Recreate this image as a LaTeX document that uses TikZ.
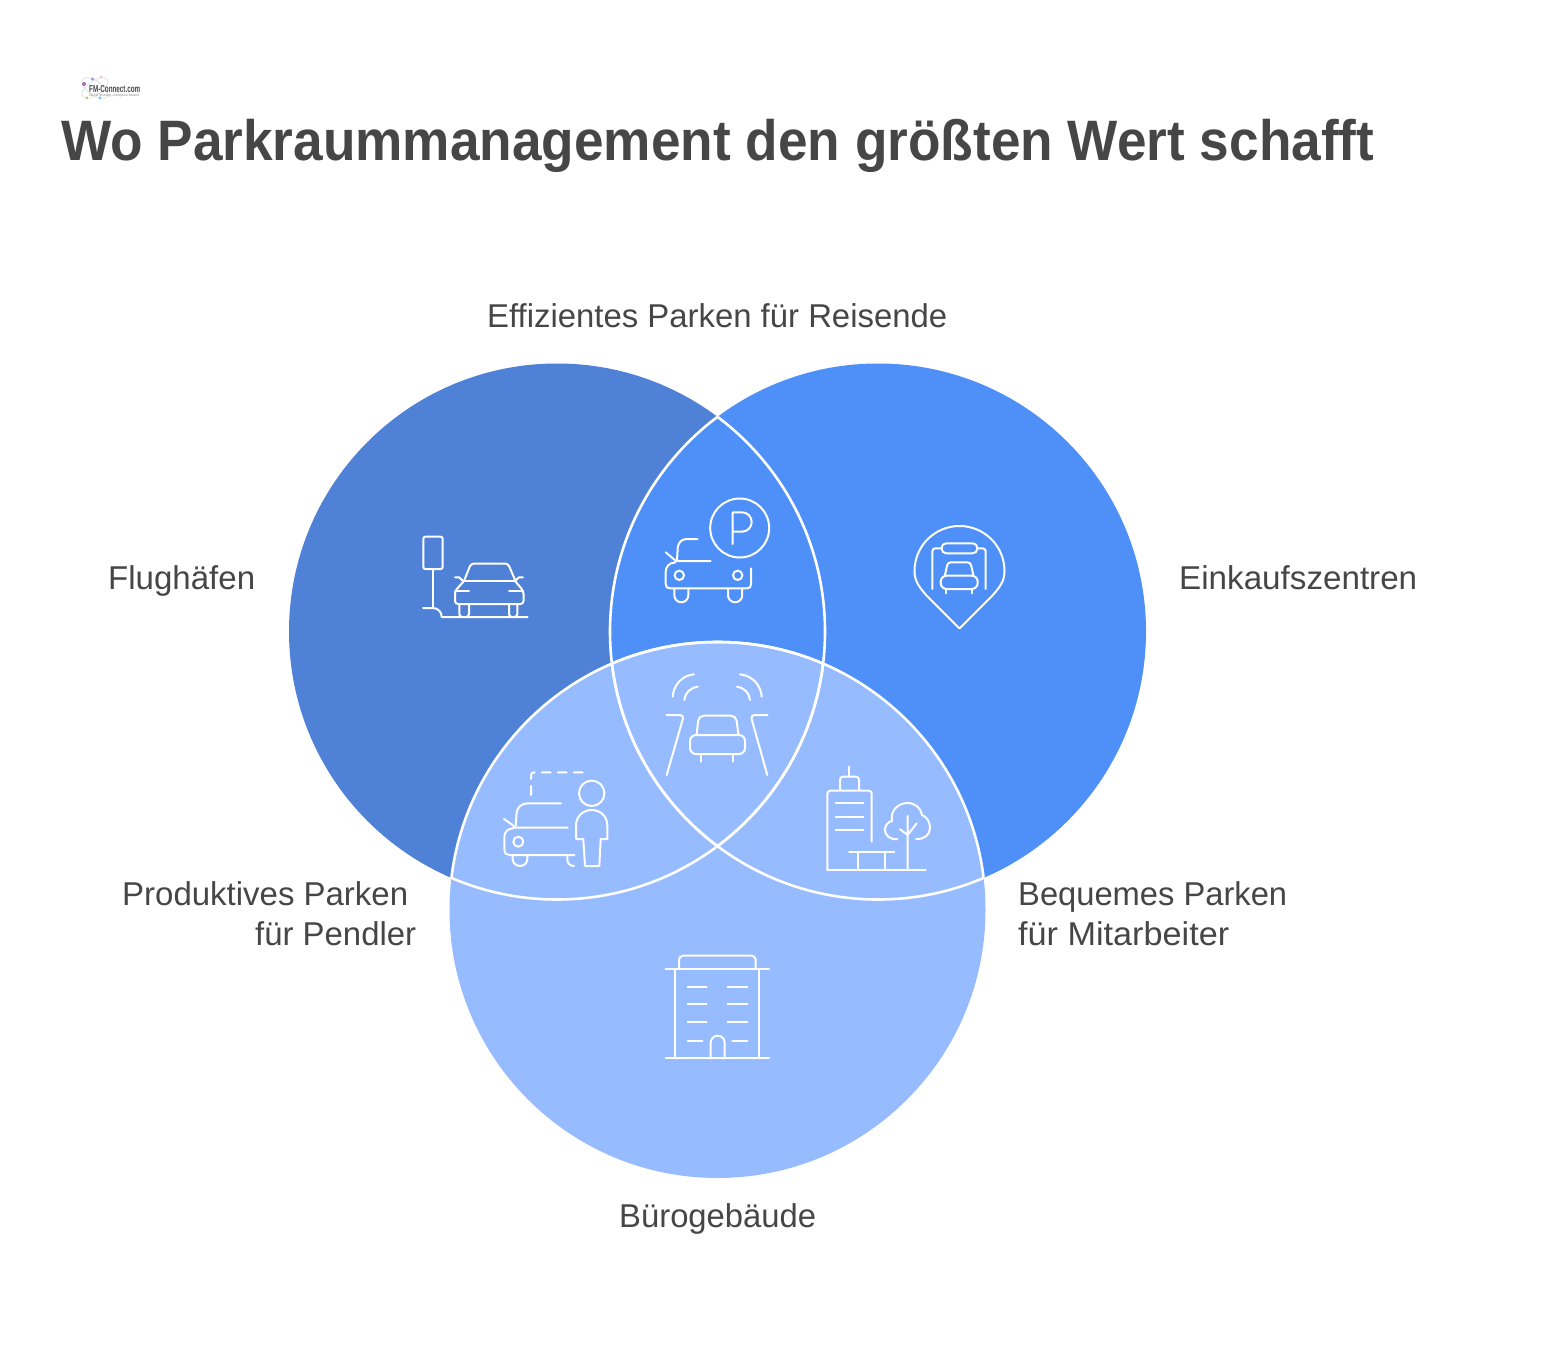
\documentclass[tikz,border=0pt]{standalone}
\usepackage{fontspec}
\setmainfont{Liberation Sans}
\definecolor{ca}{HTML}{4F81D6}
\definecolor{cb}{HTML}{4E8FF8}
\definecolor{cc}{HTML}{96BBFE}
\definecolor{ink}{HTML}{464646}
\newcommand\fitw[2]{\resizebox{#1pt}{\height}{#2}}
\newcommand\ringin[2]{\begin{scope}\clip #2 circle (268);\draw[ring] #1 circle (268);\end{scope}}
\tikzset{
  label/.style={anchor=base west,inner sep=0pt,text=ink,font=\fontsize{33}{33}\selectfont},
  ttl/.style={anchor=base west,inner sep=0pt,text=ink,font=\fontsize{57}{57}\selectfont\bfseries},
  ring/.style={draw=white,line width=2.6pt},
  icon/.style={draw=white,line width=2pt,line cap=round,line join=round,fill=none},
  rc/.style={icon,rounded corners=3pt}
}
\begin{document}
\begin{tikzpicture}[x=1pt,y=-1pt]
\useasboundingbox (0,0) rectangle (1558,1356);
% logo
\draw[gray!25,line width=.7pt,rotate around={35:(95,88)}] (95,88) ellipse (15 and 7);
\draw[gray!25,line width=.7pt,rotate around={-35:(95,88)}] (95,88) ellipse (15 and 7);
\fill[violet!60] (84,84) circle (2);
\fill[blue!45] (92.5,79) circle (1.7);
\fill[red!25] (101,77) circle (1.5);
\fill[cyan!60] (100,98) circle (1.7);
\fill[yellow!50!gray] (87,98) circle (1.5);
\node[anchor=base west,inner sep=0pt,text=ink] (logoa) at (89,93) {\fitw{51}{\fontsize{10}{10}\selectfont\bfseries FM-Connect.com}};
\node[anchor=base west,inner sep=0pt,text=gray] (logob) at (89,97) {\fitw{50}{\fontsize{3.5}{4}\selectfont Das FM Technology- und Ingenieur-Netzwerk}};
% title
\node[ttl] (title) at (61,161) {\fitw{1313}{Wo Parkraummanagement den größten Wert schafft}};
% circles
\fill[ca] (557,631.5) circle (268);
\fill[cb] (878,631.5) circle (268);
\fill[cc] (717.5,910) circle (268);
\ringin{(557,631.5)}{(878,631.5)}
\ringin{(557,631.5)}{(717.5,910)}
\ringin{(878,631.5)}{(557,631.5)}
\ringin{(878,631.5)}{(717.5,910)}
\ringin{(717.5,910)}{(557,631.5)}
\ringin{(717.5,910)}{(878,631.5)}
% labels
\node[label] (l1) at (487,327) {\fitw{460}{Effizientes Parken für Reisende}};
\node[label] (l2) at (108,589) {\fitw{147}{Flughäfen}};
\node[label] (l3) at (1179,589) {\fitw{238}{Einkaufszentren}};
\node[label] (l4a) at (122,905) {\fitw{286}{Produktives Parken}};
\node[label] (l4b) at (255,945) {\fitw{161}{für Pendler}};
\node[label] (l5a) at (1018,905) {\fitw{269}{Bequemes Parken}};
\node[label] (l5b) at (1018,945) {\fitw{211}{für Mitarbeiter}};
\node[label] (l6) at (619,1227) {\fitw{197}{Bürogebäude}};
% icon: airport car
\draw[rc,rounded corners=2pt] (423.3,536.7) rectangle (442.7,569);
\draw[icon] (432.7,569) -- (432.7,608);
\draw[icon] (423,608) -- (432.7,608) .. controls (438,608) and (441.7,612) .. (441.7,617) -- (527.7,617);
\draw[icon] (464,581) -- (515,581);
\draw[rc] (464,581) -- (471,563.5) -- (508,563.5) -- (515.5,581);
\draw[rc] (464,581) -- (455,591) -- (455,604) -- (523.5,604) -- (523.5,591) -- (515,581);
\draw[icon] (455,591) -- (469,591) (509,591) -- (523,591);
\draw[icon] (455,577.3) -- (459,577.3) -- (463,581) (523,577.3) -- (519,577.3) -- (515,581);
\draw[rc] (459.3,604) -- (459.3,617) -- (469,617) -- (469,604);
\draw[rc] (509,604) -- (509,617) -- (517.3,617) -- (517.3,604);
% icon: P car
\draw[icon] (739.7,528) circle (29.5);
\draw[icon] (732.7,544) -- (732.7,512.3) -- (742,512.3) arc (-90:90:9.7) -- (732.7,531.7);
\draw[icon] (697.7,539) -- (687,539) .. controls (681,539) and (678.2,543) .. (677.7,548) -- (677,561);
\draw[icon] (675,561) -- (710.7,561) (665.7,552.3) -- (676,561);
\draw[icon] (675,562.5) .. controls (669,562.5) and (665.7,567) .. (665.7,572) -- (665.7,584) .. controls (665.7,587) and (667,588.3) .. (670,588.3) -- (747,588.3) .. controls (750,588.3) and (751,587) .. (751,584) -- (751,568.3);
\draw[icon] (679.3,575.3) circle (4.7) (737.7,575.3) circle (4.7);
\draw[icon] (674.3,588.3) -- (674.3,595.3) arc (180:0:7) -- (688.3,588.3);
\draw[icon] (728,588.3) -- (728,595.3) arc (180:0:7.1 and 7) -- (742.2,588.3);
% icon: pin
\draw[icon] (959.5,628.5) -- (927,596) .. controls (919,587) and (914.5,581) .. (914.5,571) arc (180:0:45 and -45) .. controls (1004.5,581) and (1000,587) .. (992,596) -- cycle;
\draw[rc] (932.3,589) -- (932.3,548.3) -- (941.7,548.3);
\draw[rc] (985.7,589) -- (985.7,548.3) -- (977.3,548.3);
\draw[icon,rounded corners=4.5pt] (941.7,543.3) rectangle (977.3,553.3);
\draw[rc] (945,575) -- (947.8,562.3) -- (970.5,562.3) -- (973.3,575);
\draw[icon,rounded corners=6pt] (940.7,575.7) -- (940.7,589) -- (977.7,589) -- (977.7,575.7) -- cycle;
\draw[icon] (946,589) -- (946,593.3) (972.3,589) -- (972.3,593.3);
% icon: sensor car
\draw[icon] (672.7,696.7) .. controls (673.5,685) and (682,675.5) .. (694,674.3);
\draw[icon] (684.3,700) .. controls (685,693) and (690,688) .. (697.7,686.7);
\draw[icon] (761.7,696.7) .. controls (761,685) and (752,675.5) .. (740,674.3);
\draw[icon] (750,700) .. controls (749.5,693) and (744.5,688) .. (737,686.7);
\draw[icon,rounded corners=4pt] (666.7,715) -- (684,715) -- (666.7,775);
\draw[icon,rounded corners=4pt] (767.7,715) -- (750.5,715) -- (767.3,775);
\draw[rc,rounded corners=5pt] (696.7,734) -- (698.7,715.7) -- (736,715.7) -- (738.3,734);
\draw[icon,rounded corners=6pt] (690,735) rectangle (745,754);
\draw[icon] (700.7,754) -- (700.7,761.7) (733.3,754) -- (733.3,761.7);
% icon: commuter
\draw[icon,dash pattern=on 9pt off 7pt,rounded corners=3pt] (531,795) -- (531,772.3) -- (588.3,772.3);
\draw[icon] (561,803.3) -- (528,803.3) .. controls (521,803.3) and (517,808) .. (516.6,813) -- (515.7,826);
\draw[icon] (513.3,827.7) -- (567.7,827.7) (504,819) -- (514,826);
\draw[icon] (513.3,828.3) .. controls (508,828.3) and (504.3,832) .. (504.3,837) -- (504.3,850) .. controls (504.3,853) and (506,855) .. (509,855) -- (574.3,855);
\draw[icon] (518.3,841.7) circle (5);
\draw[icon] (512.7,855) -- (512.7,859) arc (180:0:7.3 and 7) -- (527.3,855);
\draw[icon] (567.3,855) -- (567.3,859.5) .. controls (567.3,863) and (570,866) .. (574,866);
\draw[icon] (591.7,793.3) circle (12.7);
\draw[icon] (576,839) -- (576,825.5) .. controls (576,816.5) and (583,810) .. (591.7,810) .. controls (600.5,810) and (607.3,816.5) .. (607.3,825.5) -- (607.3,839) -- (600.7,839) -- (599.3,866) -- (585,866) -- (583.3,839) -- cycle;
% icon: office and tree
\draw[rc] (827.3,870) -- (827.3,790.7) -- (871.7,790.7) -- (871.7,841.7);
\draw[rc] (840,790) -- (840,776.7) -- (859,776.7) -- (859,790);
\draw[icon] (849.3,776.7) -- (849.3,766.7);
\draw[icon] (835.7,803.3) -- (863.3,803.3) (835.7,816.7) -- (863.3,816.7) (835.7,830) -- (863.3,830);
\draw[icon] (827.3,870) -- (925.7,870) (849,852.3) -- (894.3,852.3) (858.3,852.3) -- (858.3,870) (885,852.3) -- (885,870);
\draw[icon] (907.7,816) -- (907.7,870) (900,829.3) -- (907.7,835) -- (916.7,823.3);
\draw[icon] (897.3,839) .. controls (889.5,840) and (885,835) .. (885,830) .. controls (885,825) and (888,822) .. (892,821) .. controls (890,811) and (898,803) .. (907.5,803) .. controls (915,803) and (921,808) .. (922,815) .. controls (927,817) and (930,822) .. (930,828) .. controls (930,835) and (924,839.5) .. (916,839);
% icon: office
\draw[icon] (665.7,969) -- (769,969) (665.7,1058.3) -- (769,1058.3) (675,969) -- (675,1058.3) (759.3,969) -- (759.3,1058.3);
\draw[rc,rounded corners=4pt] (679,968) -- (679,955.7) -- (755.7,955.7) -- (755.7,968);
\draw[icon] (687.7,986.7) -- (706.7,986.7) (727.7,986.7) -- (747.3,986.7)
  (687.7,1004.3) -- (706.7,1004.3) (727.7,1004.3) -- (747.3,1004.3)
  (687.7,1022.3) -- (706.7,1022.3) (727.7,1022.3) -- (747.3,1022.3)
  (687.7,1040.7) -- (702.3,1040.7) (732.3,1040.7) -- (747.3,1040.7);
\draw[icon] (710.7,1058.3) -- (710.7,1042.7) arc (180:0:7 and -7) -- (724.7,1058.3);
\end{tikzpicture}
\end{document}
